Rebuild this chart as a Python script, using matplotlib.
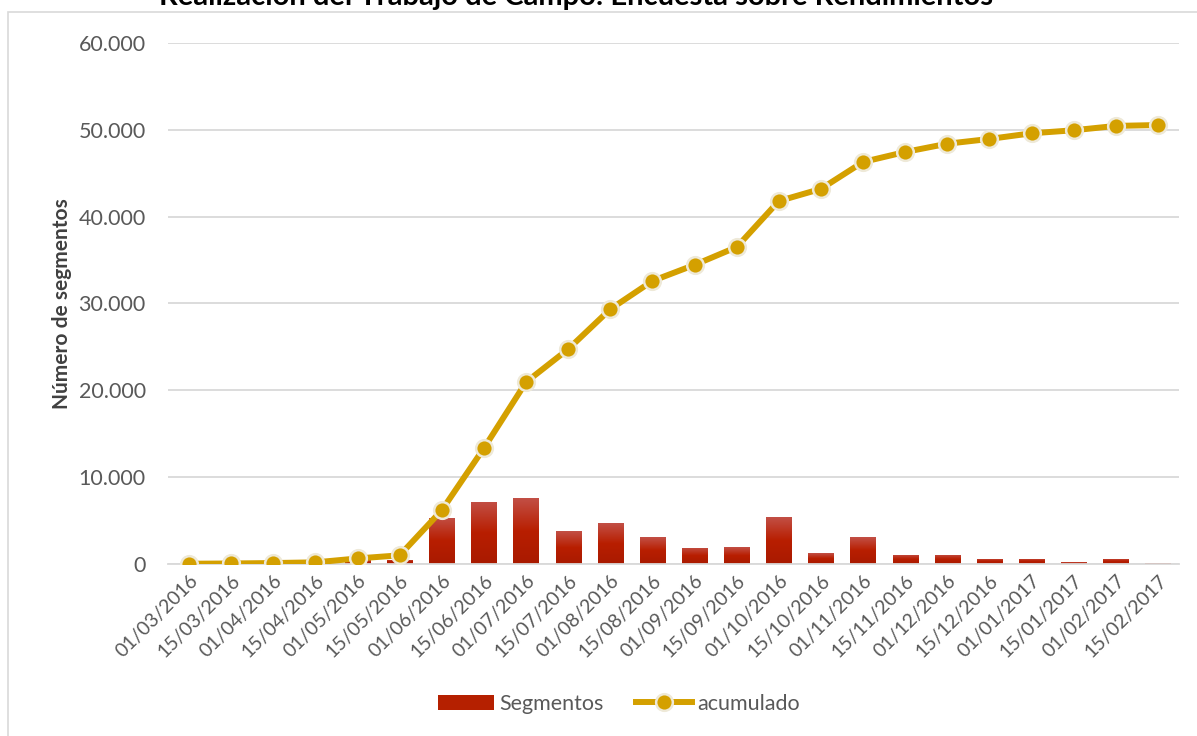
import numpy as np
import matplotlib.pyplot as plt
from matplotlib.ticker import FuncFormatter
from matplotlib.patches import Rectangle
from matplotlib.colors import LinearSegmentedColormap

fechas = ['01/03/2016', '15/03/2016', '01/04/2016', '15/04/2016', '01/05/2016', '15/05/2016',
          '01/06/2016', '15/06/2016', '01/07/2016', '15/07/2016', '01/08/2016', '15/08/2016',
          '01/09/2016', '15/09/2016', '01/10/2016', '15/10/2016', '01/11/2016', '15/11/2016',
          '01/12/2016', '15/12/2016', '01/01/2017', '15/01/2017', '01/02/2017', '15/02/2017']
segmentos = [20, 30, 50, 80, 450, 500,
             5300, 7150, 7600, 3800, 4700, 3100,
             1850, 1950, 5400, 1250, 3100, 1050,
             1050, 580, 580, 230, 580, 120]
acumulado = [30, 60, 110, 190, 640, 1000,
             6200, 13350, 20950, 24750, 29350, 32600,
             34450, 36500, 41800, 43200, 46300, 47450,
             48400, 48950, 49600, 49950, 50450, 50550]

plt.rcParams['font.family'] = ['Lato', 'DejaVu Sans']

fig = plt.figure(figsize=(11.97, 7.36), dpi=100)
fig.patches.append(Rectangle((8 / 1197, -0.05), 1.2, 1 - 12 / 736 + 0.05, transform=fig.transFigure,
                             fill=False, edgecolor='#d9d9d9', linewidth=1.2))
ax = fig.add_axes([0.1404, 0.2337, 0.8446, 0.7079])

x = np.arange(len(fechas))
bars = ax.bar(x, segmentos, width=0.6, color='#b52000', label='Segmentos', zorder=2)

# degradado vertical en cada barra (como en Excel)
grad = np.linspace(0, 1, 64).reshape(-1, 1)
cmap = LinearSegmentedColormap.from_list('rojo', ['#a91a00', '#b81e00', '#c24f45'])
for b in bars:
    bx, by = b.get_x(), b.get_y()
    w, h = b.get_width(), b.get_height()
    im = ax.imshow(grad, cmap=cmap, aspect='auto', origin='lower',
                   extent=[bx, bx + w, by, by + h], zorder=2)
    im.set_clip_path(b)
    b.set_facecolor('none')

linea, = ax.plot(x, acumulado, color='#d4a000', linewidth=4.3, marker='o', markersize=12,
                 markerfacecolor='#d4a000', markeredgecolor='#eee9d8', markeredgewidth=1.8,
                 label='acumulado', zorder=3)

ax.set_xlim(-0.5, len(fechas) - 0.5)
ax.set_ylim(0, 60000)
ax.set_yticks(np.arange(0, 60001, 10000))
ax.yaxis.set_major_formatter(FuncFormatter(lambda v, p: f'{int(v):,}'.replace(',', '.')))
ax.grid(axis='y', color='#d9d9d9', linewidth=1.3, zorder=0)
ax.set_axisbelow(True)
for s in ['top', 'right', 'left']:
    ax.spines[s].set_visible(False)
ax.spines['bottom'].set_color('#d9d9d9')
ax.spines['bottom'].set_linewidth(1.3)
ax.tick_params(axis='y', length=0, pad=16, labelsize=15.5, labelcolor='#595959')
ax.tick_params(axis='x', length=0, pad=6, labelsize=14, labelcolor='#595959')
ax.set_xticks(x)
ax.set_xticklabels(fechas, rotation=45, ha='right', rotation_mode='anchor')

ax.set_ylabel('Número de segmentos', fontsize=15, fontweight='bold', color='#404040', labelpad=5)

fig.text(0.481, 1 - 5 / 736, 'Realización del Trabajo de Campo: Encuesta sobre Rendimientos',
         ha='center', va='baseline', fontsize=21, fontweight='bold', color='#000000')

muestra = Rectangle((0, 0), 1, 1, facecolor='#b52000', edgecolor='none')
ax.legend([muestra, linea], ['Segmentos', 'acumulado'], loc='center', bbox_to_anchor=(0.446, -0.2687),
          ncol=2, frameon=False, fontsize=15.5, labelcolor='#595959', handlelength=2.6,
          columnspacing=1.5, handletextpad=0.25)

fig.savefig('out.png', dpi=100)
